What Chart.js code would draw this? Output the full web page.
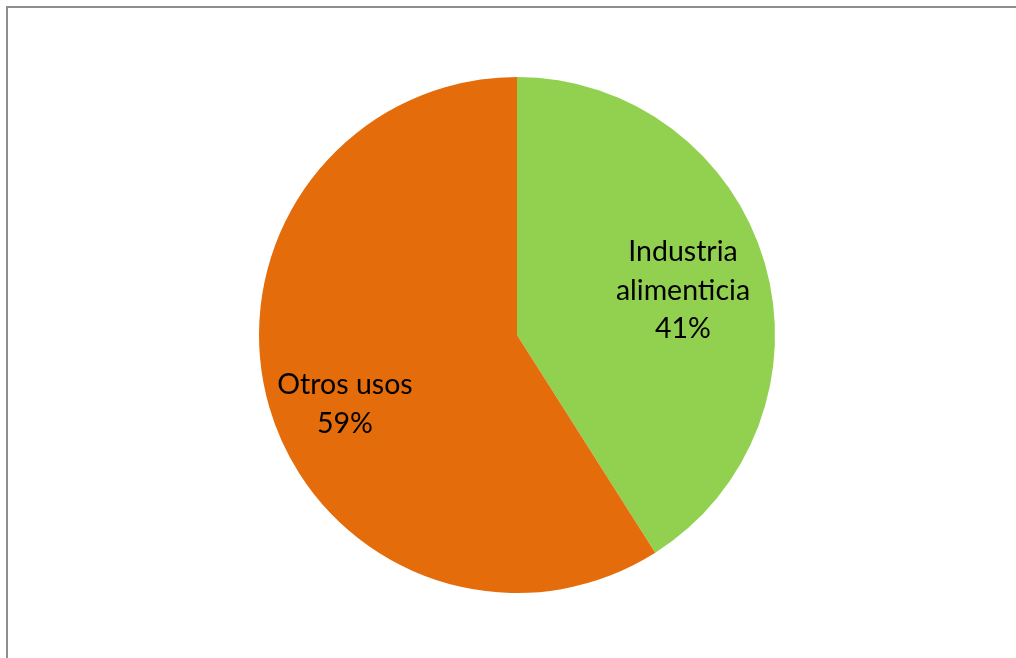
<!DOCTYPE html>
<html>
<head>
<meta charset="utf-8">
<script src="https://cdn.jsdelivr.net/npm/chart.js@4"></script>
<style>
  html, body { margin: 0; padding: 0; background: #fff; }
  #wrap { position: relative; width: 1016px; height: 658px; overflow: hidden; }
  #frame { position: absolute; left: 6px; top: 6px; width: 1100px; height: 700px;
           border-top: 2px solid #8e8e8e; border-left: 2px solid #8e8e8e; }
  #pieChart { position: absolute; left: 0; top: 0; }
</style>
</head>
<body>
<div id="wrap">
  <div id="frame"></div>
  <canvas id="pieChart" width="1016" height="658"></canvas>
</div>
<script>
// categories and shares (percent)
var categorias = ["Industria alimenticia", "Otros usos"];
var lineasEtiqueta = [["Industria", "alimenticia"], ["Otros usos"]];
var porcentajes = [41, 59];
var colores = ["#92d050", "#e46c0a"];

// draws the category name + percent inside each slice
var etiquetasPlugin = {
  id: 'etiquetas',
  afterDatasetsDraw: function (chart, args, opts) {
    var ctx = chart.ctx;
    var meta = chart.getDatasetMeta(0);
    ctx.save();
    ctx.fillStyle = '#000';
    ctx.font = opts.size + 'px ' + opts.family;
    ctx.textAlign = 'center';
    ctx.textBaseline = 'middle';
    meta.data.forEach(function (arc, i) {
      var p = arc.getProps(['x', 'y', 'startAngle', 'endAngle', 'outerRadius'], true);
      var mid = (p.startAngle + p.endAngle) / 2;
      var r = p.outerRadius * opts.factor;
      var cx = p.x + Math.cos(mid) * r + (opts.dx[i] || 0);
      var cy = p.y + Math.sin(mid) * r + (opts.dy[i] || 0);
      var lines = lineasEtiqueta[i].concat([porcentajes[i] + '%']);
      var top = cy - (lines.length - 1) * opts.lineHeight / 2;
      lines.forEach(function (t, k) {
        ctx.fillText(t, cx, top + k * opts.lineHeight);
      });
    });
    ctx.restore();
  }
};

var pie = new Chart(document.getElementById("pieChart"), {
  type: 'pie',
  data: {
    labels: categorias,
    datasets: [{
      data: porcentajes,
      backgroundColor: colores,
      borderWidth: 0
    }]
  },
  options: {
    responsive: false,
    animation: false,
    layout: { padding: { top: 77, bottom: 65, left: 100, right: 82 } },
    plugins: {
      legend: { display: false },
      tooltip: { enabled: false },
      etiquetas: { size: 28.5, family: 'Lato, "Open Sans", sans-serif', lineHeight: 38.5,
                   factor: 0.67, dx: [0, -6], dy: [4, 21] }
    }
  },
  plugins: [etiquetasPlugin]
});
</script>
</body>
</html>
